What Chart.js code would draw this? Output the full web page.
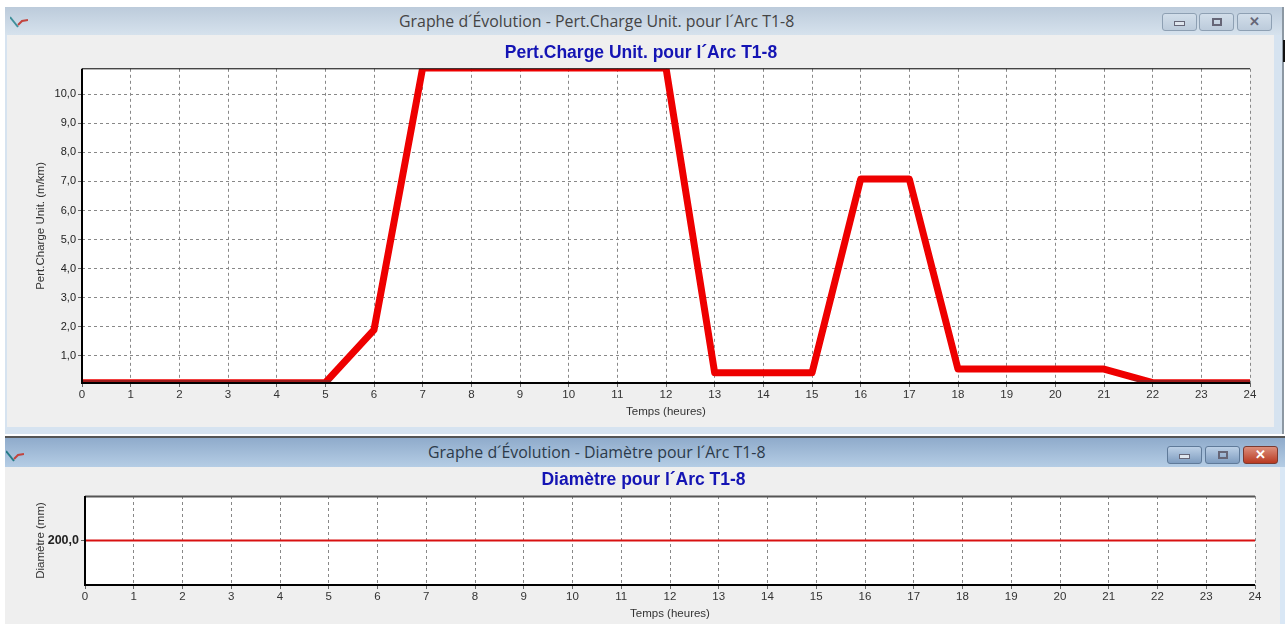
<!DOCTYPE html>
<html lang="fr">
<head>
<meta charset="utf-8">
<title>Graphe d´Évolution</title>
<script src="https://cdn.jsdelivr.net/npm/chart.js@4"></script>
<style>
  html, body { margin: 0; padding: 0; background: #fff; overflow: hidden; }
  body { width: 1285px; height: 624px; position: relative; font-family: "Liberation Sans", Arial, sans-serif; }
  .win { position: absolute; }
  #winTop { left: 5px; top: 7px; width: 1277px; height: 427px; background: #d6e3f0; border-right: 2px solid #8c98a3; }
  #winBottom { left: 5px; top: 436px; width: 1280px; height: 188px; background: #d9e7f5; border-top: 2px solid #555; }
  .bar { position: absolute; left: 0; top: 0; right: 0; height: 28px; font: 15.9px/28px "Open Sans", sans-serif; white-space: nowrap; }
  #winTop .bar { background: linear-gradient(#bccbdb, #d6e2ed); color: #444; padding-left: 394px; }
  #winBottom .bar { height: 29px; line-height: 29px; background: linear-gradient(#8fabcb, #b5cde5); color: #2c3a4a; padding-left: 423px; }
  .inner { position: absolute; background: #efefef; }
  #winTop .inner { left: 2px; top: 28px; right: 8px; bottom: 7px; }
  #winBottom .inner { left: 0; top: 29px; right: 5px; bottom: 2px; }
  canvas { position: absolute; left: 0; top: 0; }
  .btn { position: absolute; top: 6px; width: 35px; height: 18px; border: 1px solid #8ea0b3; border-radius: 3px; box-sizing: border-box; background: linear-gradient(#d2deea, #bccbdb); color: #667; }
  #winBottom .btn { top: 8px; background: linear-gradient(#bcd0e6, #7f9dc0); border-color: #5f7a99; }
  #winBottom .btn.close { background: linear-gradient(#dc8f7c, #b93a22); border-color: #7b3a30; }
  .btn i { position: absolute; left: 50%; top: 50%; box-sizing: border-box; display: block; }
  .ico { position: absolute; left: 5px; top: 9px; }
  #marque { position: absolute; left: 1283px; top: 40px; width: 2px; height: 22px; background: #111; }
</style>
</head>
<body>
<div class="win" id="winTop">
  <div class="bar">Graphe d´Évolution - Pert.Charge Unit. pour l´Arc T1-8</div>
  <svg class="ico" width="18" height="12" viewBox="0 0 18 12"><path d="M0 1l8 10" stroke="#3f8f9a" stroke-width="2" fill="none"/><path d="M8 9l4-4 6-1" stroke="#c2443e" stroke-width="2" fill="none"/></svg>
  <div class="btn" style="left:1157px"><i style="width:11px;height:5px;margin:-1px 0 0 -6px;background:#dfe6ee;border:1px solid #667"></i></div>
  <div class="btn" style="left:1194px"><i style="width:10px;height:8px;margin:-4px 0 0 -5px;border:2px solid #667"></i></div>
  <div class="btn" style="left:1232px;text-align:center;font:bold 13px/15px 'Liberation Sans'">✕</div>
  <div class="inner"></div>
</div>
<div id="marque"></div>
<div class="win" id="winBottom">
  <div class="bar">Graphe d´Évolution - Diamètre pour l´Arc T1-8</div>
  <svg class="ico" style="left:1px;top:12px" width="18" height="12" viewBox="0 0 18 12"><path d="M0 1l8 10" stroke="#247a86" stroke-width="2" fill="none"/><path d="M8 9l4-4 6-1" stroke="#c2443e" stroke-width="2" fill="none"/></svg>
  <div class="btn" style="left:1162px"><i style="width:11px;height:5px;margin:-1px 0 0 -6px;background:#dfe6ee;border:1px solid #667"></i></div>
  <div class="btn" style="left:1200px"><i style="width:10px;height:8px;margin:-4px 0 0 -5px;border:2px solid #667"></i></div>
  <div class="btn close" style="left:1238px;color:#fff;text-align:center;font:bold 13px/15px 'Liberation Sans'">✕</div>
  <div class="inner"></div>
</div>
<canvas id="chartPerte"></canvas>
<canvas id="chartDiam"></canvas>
<script>
// Valeurs
const heures = [0, 5, 6, 7, 12, 13, 15, 16, 17, 18, 21, 22, 24];
const perteCharge = [0.08, 0.08, 1.9, 10.9, 10.9, 0.42, 0.42, 7.08, 7.08, 0.55, 0.55, 0.08, 0.08];
const perteTicks = [1, 2, 3, 4, 5, 6, 7, 8, 9, 10];
const heuresDiam = [0, 24];
const diametre = [200, 200];
const diamTicks = [200];

const toXY = (xs, ys) => xs.map((x, i) => ({ x, y: ys[i] }));
const virgule = (v) => v.toFixed(1).replace('.', ',');

// cadre du graphe : gauche et bas épais, droite pointillée (grille)
const cadre = {
  id: 'cadre',
  afterDatasetsDraw(chart, args, opts) {
    const { ctx, chartArea: a } = chart;
    ctx.save();
    ctx.setLineDash([]);
    ctx.strokeStyle = opts.hautCouleur;
    ctx.lineWidth = opts.hautLargeur;
    ctx.beginPath();
    ctx.moveTo(a.left, a.top + opts.hautLargeur / 2 - 0.5);
    ctx.lineTo(a.right, a.top + opts.hautLargeur / 2 - 0.5);
    ctx.stroke();
    ctx.strokeStyle = '#000';
    ctx.lineWidth = 2;
    ctx.beginPath();
    ctx.moveTo(a.left, a.top);
    ctx.lineTo(a.left, a.bottom);
    ctx.lineTo(a.right, a.bottom);
    ctx.stroke();
    ctx.restore();
  }
};

// fond blanc de la zone de tracé
const fond = {
  id: 'fond',
  beforeDraw(chart) {
    const { ctx, chartArea: a } = chart;
    ctx.save();
    ctx.fillStyle = '#fff';
    ctx.fillRect(a.left, a.top, a.right - a.left, a.bottom - a.top);
    ctx.restore();
  }
};

// le trait écrasé contre l'axe du bas ressort plus sombre
function couleurTrait(c, cfg) {
  const a = c.chart.chartArea;
  if (!a || !cfg.bandeBas) return cfg.couleur;
  const g = c.chart.ctx.createLinearGradient(0, a.bottom - cfg.bandeBas, 0, a.bottom);
  g.addColorStop(0, cfg.couleur);
  g.addColorStop(0.02, cfg.couleurBas);
  g.addColorStop(1, cfg.couleurBas);
  return g;
}

function graphe(id, cfg) {
  const canvas = document.getElementById(id);
  canvas.width = cfg.w;
  canvas.height = cfg.h;
  canvas.style.left = cfg.x + 'px';
  canvas.style.top = cfg.y + 'px';
  canvas.style.width = cfg.w + 'px';
  canvas.style.height = cfg.h + 'px';
  return new Chart(canvas.getContext('2d'), {
    type: 'line',
    data: {
      datasets: [{
        data: cfg.points,
        borderColor: (c) => couleurTrait(c, cfg),
        borderWidth: cfg.epaisseur,
        pointRadius: 0,
        tension: 0,
        borderJoinStyle: 'round',
        clip: 0
      }]
    },
    plugins: [fond, cadre],
    options: {
      responsive: false,
      animation: false,
      layout: { padding: { left: cfg.gauche, right: cfg.droite, top: 0, bottom: 0 } },
      plugins: {
        legend: { display: false },
        tooltip: { enabled: false },
        cadre: { hautCouleur: cfg.hautCouleur, hautLargeur: cfg.hautLargeur },
        title: {
          display: true,
          text: cfg.titre,
          color: '#1414b4',
          font: { family: '"Liberation Sans"', size: 17.5, weight: 'bold' },
          padding: { top: cfg.titreHaut, bottom: cfg.titreBas }
        }
      },
      scales: {
        x: {
          type: 'linear',
          min: 0,
          max: 24,
          ticks: { stepSize: 1, color: '#333', font: { family: '"Liberation Sans"', size: 11.5 }, padding: 1, maxRotation: 0, autoSkip: false },
          grid: { color: '#888', lineWidth: 1, tickLength: 4, tickColor: '#666' },
          border: { dash: [3, 3], display: false },
          title: { display: true, text: 'Temps (heures)', color: '#333', font: { family: '"Liberation Sans"', size: 11.5 }, padding: { top: 0, bottom: cfg.titreXDecale } },
          afterFit: (s) => { s.height = cfg.basAxe; }
        },
        y: {
          min: cfg.ymin,
          max: cfg.ymax,
          afterBuildTicks: (s) => { s.ticks = cfg.ticks.map((value) => ({ value })); },
          ticks: { callback: (v) => virgule(v), color: '#222', font: { family: '"Liberation Sans"', size: cfg.ticksTaille, weight: cfg.ticksGras ? 'bold' : 'normal' }, padding: 2 },
          grid: { color: '#888', lineWidth: 1, tickLength: 4, tickColor: '#666' },
          border: { dash: [3, 3], display: false },
          title: { display: true, text: cfg.titreY, color: '#333', font: { family: '"Liberation Sans"', size: 11.5 }, padding: { top: 2, bottom: 0 } },
          afterFit: (s) => { s.width = cfg.largeurAxe; }
        }
      }
    }
  });
}

graphe('chartPerte', {
  x: 6, y: 35, w: 1270, h: 392,
  points: toXY(heures, perteCharge),
  couleur: '#ee0000', couleurBas: '#a01c1c', bandeBas: 3.5, epaisseur: 7,
  titre: 'Pert.Charge Unit. pour l´Arc T1-8', titreHaut: 8, titreBas: 4.8,
  titreY: 'Pert.Charge Unit. (m/km)', titreXDecale: 8,
  ymin: 0.07, ymax: 10.87, ticks: perteTicks,
  gauche: 26, largeurAxe: 50, droite: 26, basAxe: 44, ticksTaille: 11, ticksGras: false,
  hautCouleur: '#000', hautLargeur: 1
});

graphe('chartDiam', {
  x: 6, y: 467, w: 1270, h: 155,
  points: toXY(heuresDiam, diametre),
  couleur: '#d81010', couleurBas: '#d81010', bandeBas: 0, epaisseur: 2,
  titre: 'Diamètre pour l´Arc T1-8', titreHaut: 3, titreBas: 5,
  titreY: 'Diamètre (mm)', titreXDecale: 1,
  ymin: 160, ymax: 240, ticks: diamTicks,
  gauche: 26, largeurAxe: 53, droite: 21, basAxe: 37, ticksTaille: 12.5, ticksGras: true,
  hautCouleur: '#555', hautLargeur: 2
});
</script>
</body>
</html>
